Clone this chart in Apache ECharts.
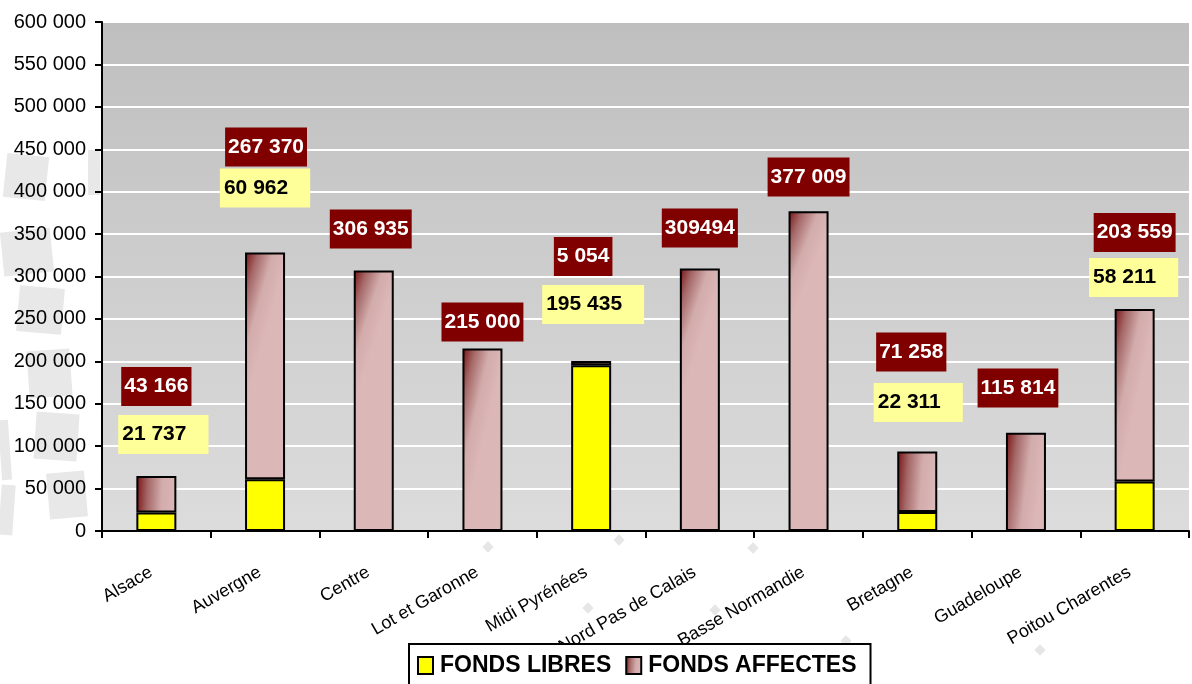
<!DOCTYPE html>
<html>
<head>
<meta charset="utf-8">
<script src="https://cdn.jsdelivr.net/npm/echarts@6/dist/echarts.min.js"></script>
<style>
html,body{margin:0;padding:0;background:#fff;}
#chart{width:1192px;height:684px;}
</style>
</head>
<body>
<div id="chart"></div>
<script>
// ---- data ----
const categories = ['Alsace','Auvergne','Centre','Lot et Garonne','Midi Pyrénées','Nord Pas de Calais','Basse Normandie','Bretagne','Guadeloupe','Poitou Charentes'];
const fondsLibres   = [21737, 60962, 0, 0, 195435, 0, 0, 22311, 0, 58211];
const fondsAffectes = [43166, 267370, 306935, 215000, 5054, 309494, 377009, 71258, 115814, 203559];
const seriesNames = ['FONDS LIBRES', 'FONDS AFFECTES'];
const yTicks = {min: 0, max: 600000, interval: 50000};
// label placement (value-axis anchor of each boxed label, horizontal pixel shift)
const affectesLabelAnchor = [170300, 452650, 356000, 246400, 323600, 357200, 417300, 211000, 168600, 351900];
const affectesLabelShift  = [0, 1, -3, 0, -8, 0, 0, -6, -8, 0];
const libresLabelAnchor   = [113750, 404300, null, null, 267000, null, null, 151500, null, 298800];
const libresLabelShift    = [7, 0, 0, 0, 2, 0, 0, 1, 0, -1];
const affectesGroupDigits = [true, true, true, true, true, false, true, true, true, true];

function fmt(v, group) {
  const s = String(v);
  return group === false ? s : s.replace(/\B(?=(\d{3})+(?!\d))/g, ' ');
}

const chart = echarts.init(document.getElementById('chart'), null, {renderer: 'canvas'});

const affectesColor = {
  type: 'linear', x: 0, y: 0, x2: 1, y2: 0.05,
  colorStops: [
    {offset: 0, color: '#781010'},
    {offset: 0.3, color: '#a56868'},
    {offset: 0.65, color: '#d2abab'},
    {offset: 1, color: '#dcb7b7'}
  ]
};

const wm = [
  [5, 155, 42, 44, -6], [2, 230, 50, 44, 6], [18, 287, 45, 46, -5], [28, 350, 43, 47, 4],
  [35, 413, 43, 47, -4], [48, 472, 38, 46, 5], [0, 420, 10, 60, 4], [0, 485, 14, 50, -4],
  [88, 150, 12, 45, 0]
];
const graphics = wm.map(r => ({
  type: 'rect', silent: true, z: -1,
  x: r[0] + r[2] / 2, y: r[1] + r[3] / 2, originX: 0, originY: 0,
  rotation: r[4] * Math.PI / 180,
  shape: {x: -r[2] / 2, y: -r[3] / 2, width: r[2], height: r[3]},
  style: {fill: '#e8e8e8'}
}));
[[488, 547], [619, 540], [753, 548], [588, 608], [715, 610], [846, 641], [1040, 650]].forEach(p => {
  graphics.push({type: 'rect', silent: true, z: -1, x: p[0], y: p[1], rotation: Math.PI / 4,
    shape: {x: -4, y: -4, width: 8, height: 8}, style: {fill: '#e6e6e6'}});
});

const option = {
  animation: false,
  backgroundColor: '#ffffff',
  textStyle: {fontFamily: '"Liberation Sans", Arial, sans-serif'},
  graphic: graphics,
  grid: {
    left: 102, right: 3, top: 22, bottom: 153,
    show: true, borderWidth: 0,
    backgroundColor: {
      type: 'linear', x: 0, y: 0, x2: 0, y2: 1,
      colorStops: [{offset: 0, color: '#bfbfbf'}, {offset: 1, color: '#dcdcdc'}]
    }
  },
  legend: {
    data: seriesNames.map(n => ({name: n, icon: 'rect'})),
    left: 409, top: 644,
    orient: 'horizontal',
    backgroundColor: '#ffffff',
    borderColor: '#000000', borderWidth: 2,
    padding: [10, 14, 14, 8],
    itemWidth: 15, itemHeight: 17, itemGap: 14,
    textStyle: {fontSize: 23, fontWeight: 'bold', color: '#000', padding: [0, 0, 0, 2],
      fontFamily: '"Liberation Sans", Arial, sans-serif'}
  },
  xAxis: {
    type: 'category',
    data: categories,
    axisLine: {lineStyle: {color: '#000', width: 2}},
    axisTick: {show: true, length: 7, lineStyle: {color: '#000', width: 2}},
    axisLabel: {rotate: 30, fontSize: 18, color: '#000', margin: 37, interval: 0,
      padding: [0, 6, 0, 0],
      fontFamily: '"Liberation Sans", Arial, sans-serif'},
    splitLine: {show: false}
  },
  yAxis: {
    type: 'value',
    min: yTicks.min, max: yTicks.max, interval: yTicks.interval,
    axisLine: {show: true, lineStyle: {color: '#000', width: 2}},
    axisTick: {show: true, length: 7, lineStyle: {color: '#000', width: 2}},
    axisLabel: {fontSize: 20, color: '#000', margin: 16,
      formatter: v => fmt(v),
      fontFamily: '"Liberation Sans", Arial, sans-serif'},
    splitLine: {show: true, lineStyle: {color: '#ffffff', width: 2}}
  },
  series: [
    {
      name: seriesNames[0], type: 'bar', stack: 'total', barWidth: 40,
      data: fondsLibres,
      itemStyle: {color: '#ffff00', borderColor: '#000', borderWidth: 2}
    },
    {
      name: seriesNames[1], type: 'bar', stack: 'total', barWidth: 40,
      data: fondsAffectes,
      itemStyle: {color: affectesColor, borderColor: '#000', borderWidth: 2}
    },
    {
      name: 'lblAff', type: 'scatter', z: 10, symbolSize: 1,
      itemStyle: {color: 'rgba(0,0,0,0)', opacity: 1},
      data: fondsAffectes.map((v, i) => ({
        value: [i, affectesLabelAnchor[i]],
        label: {
          show: true, position: 'inside', offset: [affectesLabelShift[i], 0],
          formatter: () => fmt(v, affectesGroupDigits[i]),
          color: '#ffffff', fontWeight: 'bold', fontSize: 21, opacity: 1,
          fontFamily: '"Liberation Sans", Arial, sans-serif',
          backgroundColor: '#800000', padding: [9, 3, 9, 3]
        }
      }))
    },
    {
      name: 'lblLib', type: 'scatter', z: 10, symbolSize: 1,
      itemStyle: {color: 'rgba(0,0,0,0)', opacity: 1},
      data: fondsLibres.map((v, i) => libresLabelAnchor[i] == null ? null : ({
        value: [i, libresLabelAnchor[i]],
        label: {
          show: true, position: 'inside', offset: [libresLabelShift[i], 0],
          formatter: () => fmt(v),
          color: '#000000', fontWeight: 'bold', fontSize: 21, opacity: 1,
          fontFamily: '"Liberation Sans", Arial, sans-serif',
          backgroundColor: '#ffff99', padding: [9, 22, 9, 4]
        }
      })).filter(d => d !== null)
    }
  ]
};
chart.setOption(option);
</script>
</body>
</html>
